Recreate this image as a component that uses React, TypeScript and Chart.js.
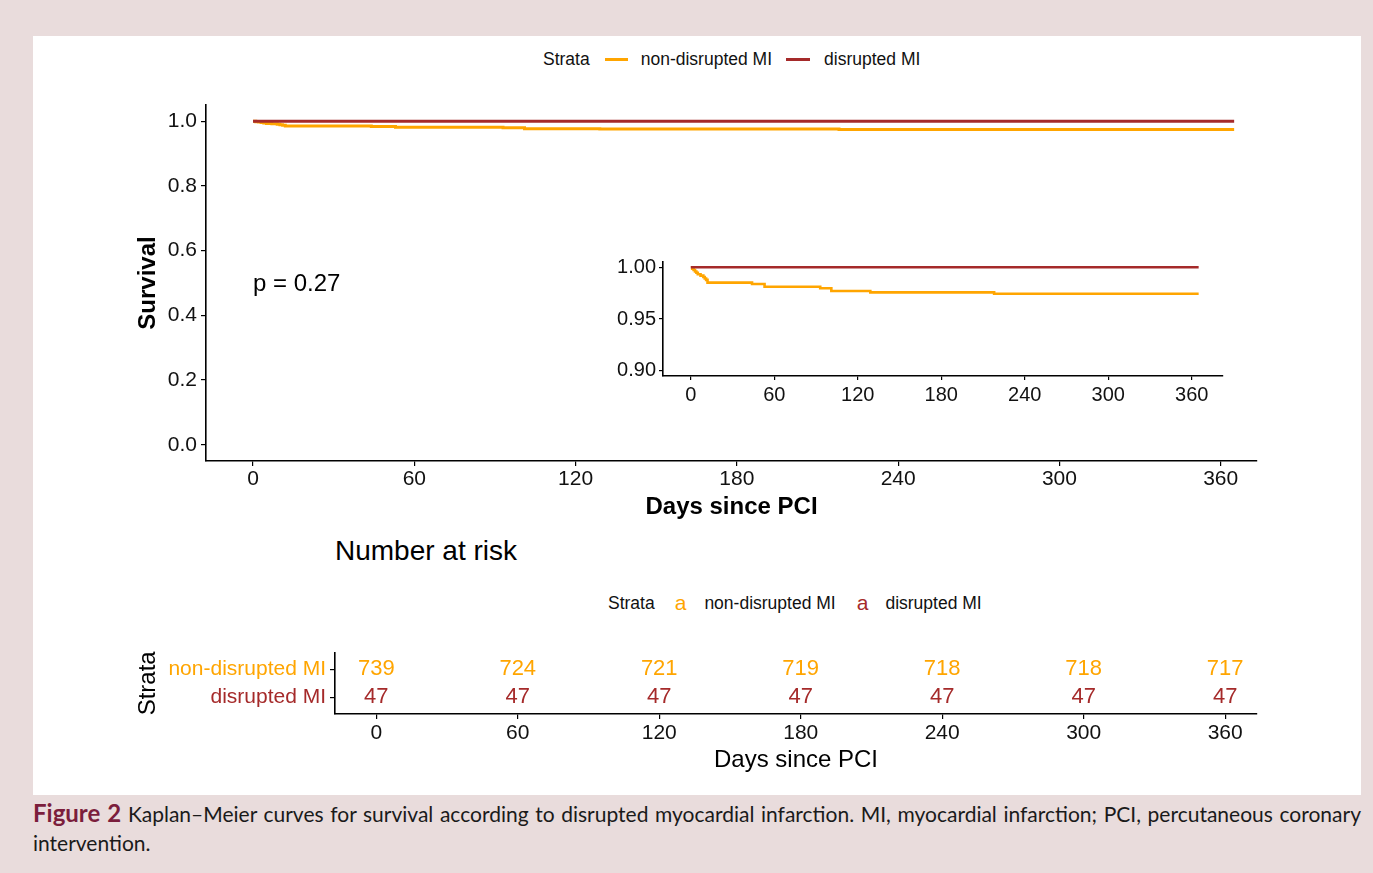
import React, { useEffect, useRef } from 'react';
import { Chart, registerables } from 'chart.js';

Chart.register(...registerables);

const FONT = "'Liberation Sans', Arial, Helvetica, sans-serif";
const ORANGE = '#FFA500';
const RED = '#A52A2A';

// ---- data ----
const strata = ['non-disrupted MI', 'disrupted MI'];
const dayTicks = [0, 60, 120, 180, 240, 300, 360];
const survivalTicks = [0, 0.2, 0.4, 0.6, 0.8, 1.0];
const insetSurvivalTicks = [0.9, 0.95, 1.0];

const nonDisruptedTimes = [0, 1, 2, 3, 4, 5, 7, 9, 10, 11, 12, 44, 53, 93, 101, 129, 218, 365];
const nonDisruptedSurv = [1, 0.9986, 0.9973, 0.9959, 0.9946, 0.9932, 0.9919, 0.9905, 0.9891, 0.9878, 0.9851, 0.9837, 0.9811, 0.9797, 0.977, 0.9757, 0.9743, 0.9743];
const disruptedTimes = [0, 365];
const disruptedSurv = [1, 1];

const riskDays = [0, 60, 120, 180, 240, 300, 360];
const riskNonDisrupted = [739, 724, 721, 719, 718, 718, 717];
const riskDisrupted = [47, 47, 47, 47, 47, 47, 47];

const pValueText = 'p = 0.27';
const pValuePos = [0, 0.5];

// ---- helpers ----
function kmDatasets(width: number) {
  return [
    {
      label: strata[1],
      data: disruptedTimes.map((t, i) => ({ x: t, y: disruptedSurv[i] })),
      borderColor: RED,
      backgroundColor: RED,
      borderWidth: width,
      stepped: 'before' as const,
      pointRadius: 0,
      fill: false,
      order: 0,
    },
    {
      label: strata[0],
      data: nonDisruptedTimes.map((t, i) => ({ x: t, y: nonDisruptedSurv[i] })),
      borderColor: ORANGE,
      backgroundColor: ORANGE,
      borderWidth: width,
      stepped: 'before' as const,
      pointRadius: 0,
      fill: false,
      order: 1,
    },
  ];
}

const gridOpts = (len: number) => ({
  drawOnChartArea: false,
  drawTicks: true,
  tickLength: len,
  color: '#000',
  lineWidth: 1.2,
});
const borderOpts = { display: true, color: '#000', width: 1.6 };

const pValuePlugin = {
  id: 'pval',
  afterDatasetsDraw(chart: any) {
    const { ctx, scales } = chart;
    ctx.save();
    ctx.font = `24px ${FONT}`;
    ctx.fillStyle = '#000';
    ctx.textAlign = 'left';
    ctx.textBaseline = 'middle';
    ctx.fillText(pValueText, scales.x.getPixelForValue(pValuePos[0]), scales.y.getPixelForValue(pValuePos[1]) + 1);
    ctx.restore();
  },
};

const riskTextPlugin = {
  id: 'riskText',
  afterDatasetsDraw(chart: any) {
    const { ctx } = chart;
    ctx.save();
    ctx.font = `22px ${FONT}`;
    ctx.textAlign = 'center';
    ctx.textBaseline = 'middle';
    chart.data.datasets.forEach((ds: any, di: number) => {
      const meta = chart.getDatasetMeta(di);
      ctx.fillStyle = ds.textColor;
      meta.data.forEach((el: any, i: number) => {
        ctx.fillText(String(ds.counts[i]), el.x, el.y);
      });
    });
    ctx.restore();
  },
};

function mainConfig(): any {
  return {
    type: 'line',
    data: { datasets: kmDatasets(3) },
    plugins: [pValuePlugin],
    options: {
      responsive: false,
      animation: false,
      layout: { padding: { top: 17, right: 23, left: 0, bottom: 0 } },
      plugins: { legend: { display: false }, tooltip: { enabled: false } },
      scales: {
        x: {
          type: 'linear',
          min: -17.5,
          max: 373.5,
          afterBuildTicks: (s: any) => { s.ticks = dayTicks.map((v) => ({ value: v })); },
          afterFit: (s: any) => { s.height = 63; },
          grid: gridOpts(5),
          border: borderOpts,
          ticks: { color: '#111', font: { family: FONT, size: 21 }, padding: 1, maxRotation: 0, autoSkip: false },
          title: { display: true, text: 'Days since PCI', color: '#000', font: { family: FONT, size: 24, weight: 'bold' }, padding: { top: 0, bottom: 2 } },
        },
        y: {
          type: 'linear',
          min: -0.05,
          max: 1.05,
          afterBuildTicks: (s: any) => { s.ticks = survivalTicks.map((v) => ({ value: v })); },
          afterFit: (s: any) => { s.width = 78; },
          grid: gridOpts(5),
          border: borderOpts,
          ticks: { color: '#111', font: { family: FONT, size: 21 }, padding: 4, callback: (v: number) => v.toFixed(1) },
          title: { display: true, text: 'Survival', color: '#000', font: { family: FONT, size: 24, weight: 'bold' }, padding: { top: 6, bottom: 0 } },
        },
      },
    },
  };
}

function insetConfig(): any {
  return {
    type: 'line',
    data: { datasets: kmDatasets(2.6) },
    options: {
      responsive: false,
      animation: false,
      layout: { padding: { top: 14, right: 17, left: 0, bottom: 0 } },
      plugins: { legend: { display: false }, tooltip: { enabled: false } },
      scales: {
        x: {
          type: 'linear',
          min: -20,
          max: 382.5,
          afterBuildTicks: (s: any) => { s.ticks = dayTicks.map((v) => ({ value: v })); },
          afterFit: (s: any) => { s.height = 36; },
          grid: gridOpts(4),
          border: borderOpts,
          ticks: { color: '#111', font: { family: FONT, size: 20 }, padding: 3, maxRotation: 0, autoSkip: false },
        },
        y: {
          type: 'linear',
          min: 0.895,
          max: 1.005,
          afterBuildTicks: (s: any) => { s.ticks = insetSurvivalTicks.map((v) => ({ value: v })); },
          afterFit: (s: any) => { s.width = 67; },
          grid: gridOpts(4),
          border: borderOpts,
          ticks: { color: '#111', font: { family: FONT, size: 20 }, padding: 3, callback: (v: number) => v.toFixed(2) },
        },
      },
    },
  };
}

function riskConfig(): any {
  return {
    type: 'scatter',
    data: {
      datasets: [
        {
          label: strata[0],
          data: riskDays.map((d) => ({ x: d, y: 2 })),
          counts: riskNonDisrupted,
          textColor: ORANGE,
          pointRadius: 0,
          showLine: false,
        },
        {
          label: strata[1],
          data: riskDays.map((d) => ({ x: d, y: 1 })),
          counts: riskDisrupted,
          textColor: RED,
          pointRadius: 0,
          showLine: false,
        },
      ],
    },
    plugins: [riskTextPlugin],
    options: {
      responsive: false,
      animation: false,
      layout: { padding: { top: 12, right: 23, left: 0, bottom: 0 } },
      plugins: { legend: { display: false }, tooltip: { enabled: false } },
      scales: {
        x: {
          type: 'linear',
          min: -17.5,
          max: 373.5,
          afterBuildTicks: (s: any) => { s.ticks = riskDays.map((v) => ({ value: v })); },
          afterFit: (s: any) => { s.height = 68; },
          grid: gridOpts(5),
          border: borderOpts,
          ticks: { color: '#111', font: { family: FONT, size: 21 }, padding: 2, maxRotation: 0, autoSkip: false },
          title: { display: true, text: 'Days since PCI', color: '#000', font: { family: FONT, size: 24 }, padding: { top: 0, bottom: 7 } },
        },
        y: {
          type: 'linear',
          min: 0.4,
          max: 2.6,
          afterBuildTicks: (s: any) => { s.ticks = [1, 2].map((v) => ({ value: v })); },
          afterFit: (s: any) => { s.width = 207; },
          grid: gridOpts(5),
          border: borderOpts,
          ticks: {
            font: { family: FONT, size: 21 },
            padding: 4,
            color: (c: any) => (c.tick && c.tick.value === 2 ? ORANGE : RED),
            callback: (v: number) => (v === 2 ? strata[0] : strata[1]),
          },
          title: { display: true, text: 'Strata', color: '#000', font: { family: FONT, size: 24 }, padding: { top: 6, bottom: 0 } },
        },
      },
    },
  };
}

function ChartCanvas({ config, left, top, width, height }: { config: () => any; left: number; top: number; width: number; height: number }) {
  const ref = useRef<HTMLCanvasElement>(null);
  useEffect(() => {
    const chart = new Chart(ref.current as HTMLCanvasElement, config());
    return () => chart.destroy();
  }, []);
  return (
    <canvas
      ref={ref}
      width={width}
      height={height}
      style={{ position: 'absolute', left, top, width, height }}
    />
  );
}

const legendText: React.CSSProperties = { fontFamily: FONT, fontSize: 17.5, color: '#111', whiteSpace: 'nowrap' };

export default function App() {
  return (
    <div style={{ position: 'fixed', left: 0, top: 0, width: 1373, height: 873, background: '#E9DCDC', overflow: 'hidden' }}>
      <div style={{ position: 'absolute', left: 33, top: 36, width: 1328, height: 759, background: '#FFFFFF' }} />

      {/* main legend */}
      <div style={{ position: 'absolute', left: 543, top: 48, height: 22, display: 'flex', alignItems: 'center' }}>
        <span style={legendText}>Strata</span>
        <span style={{ display: 'inline-block', width: 23, height: 3, background: ORANGE, marginLeft: 15 }} />
        <span style={{ ...legendText, marginLeft: 13 }}>{strata[0]}</span>
        <span style={{ display: 'inline-block', width: 24, height: 3, background: RED, marginLeft: 14 }} />
        <span style={{ ...legendText, marginLeft: 14 }}>{strata[1]}</span>
      </div>

      <ChartCanvas config={mainConfig} left={128} top={88} width={1152} height={436} />
      <ChartCanvas config={insetConfig} left={596} top={247} width={644} height={165} />

      <div style={{ position: 'absolute', left: 335, top: 535, fontFamily: FONT, fontSize: 28, color: '#000', whiteSpace: 'nowrap' }}>Number at risk</div>

      {/* risk legend */}
      <div style={{ position: 'absolute', left: 608, top: 592, height: 22, display: 'flex', alignItems: 'center' }}>
        <span style={legendText}>Strata</span>
        <span style={{ fontFamily: FONT, fontSize: 21, color: ORANGE, marginLeft: 20 }}>a</span>
        <span style={{ ...legendText, marginLeft: 18 }}>{strata[0]}</span>
        <span style={{ fontFamily: FONT, fontSize: 21, color: RED, marginLeft: 21 }}>a</span>
        <span style={{ ...legendText, marginLeft: 17 }}>{strata[1]}</span>
      </div>

      <ChartCanvas config={riskConfig} left={128} top={636} width={1152} height={146} />

      <div
        style={{
          position: 'absolute',
          left: 33,
          top: 798,
          width: 1328,
          fontFamily: "Lato, 'Open Sans', sans-serif",
          fontSize: 21,
          lineHeight: '29px',
          color: '#1a1a1a',
          textAlign: 'justify',
        }}
      >
        <b style={{ color: '#7B1E3C', fontSize: 24 }}>Figure 2</b> Kaplan–Meier curves for survival according to disrupted myocardial infarction. MI, myocardial infarction; PCI, percutaneous coronary intervention.
      </div>
    </div>
  );
}
